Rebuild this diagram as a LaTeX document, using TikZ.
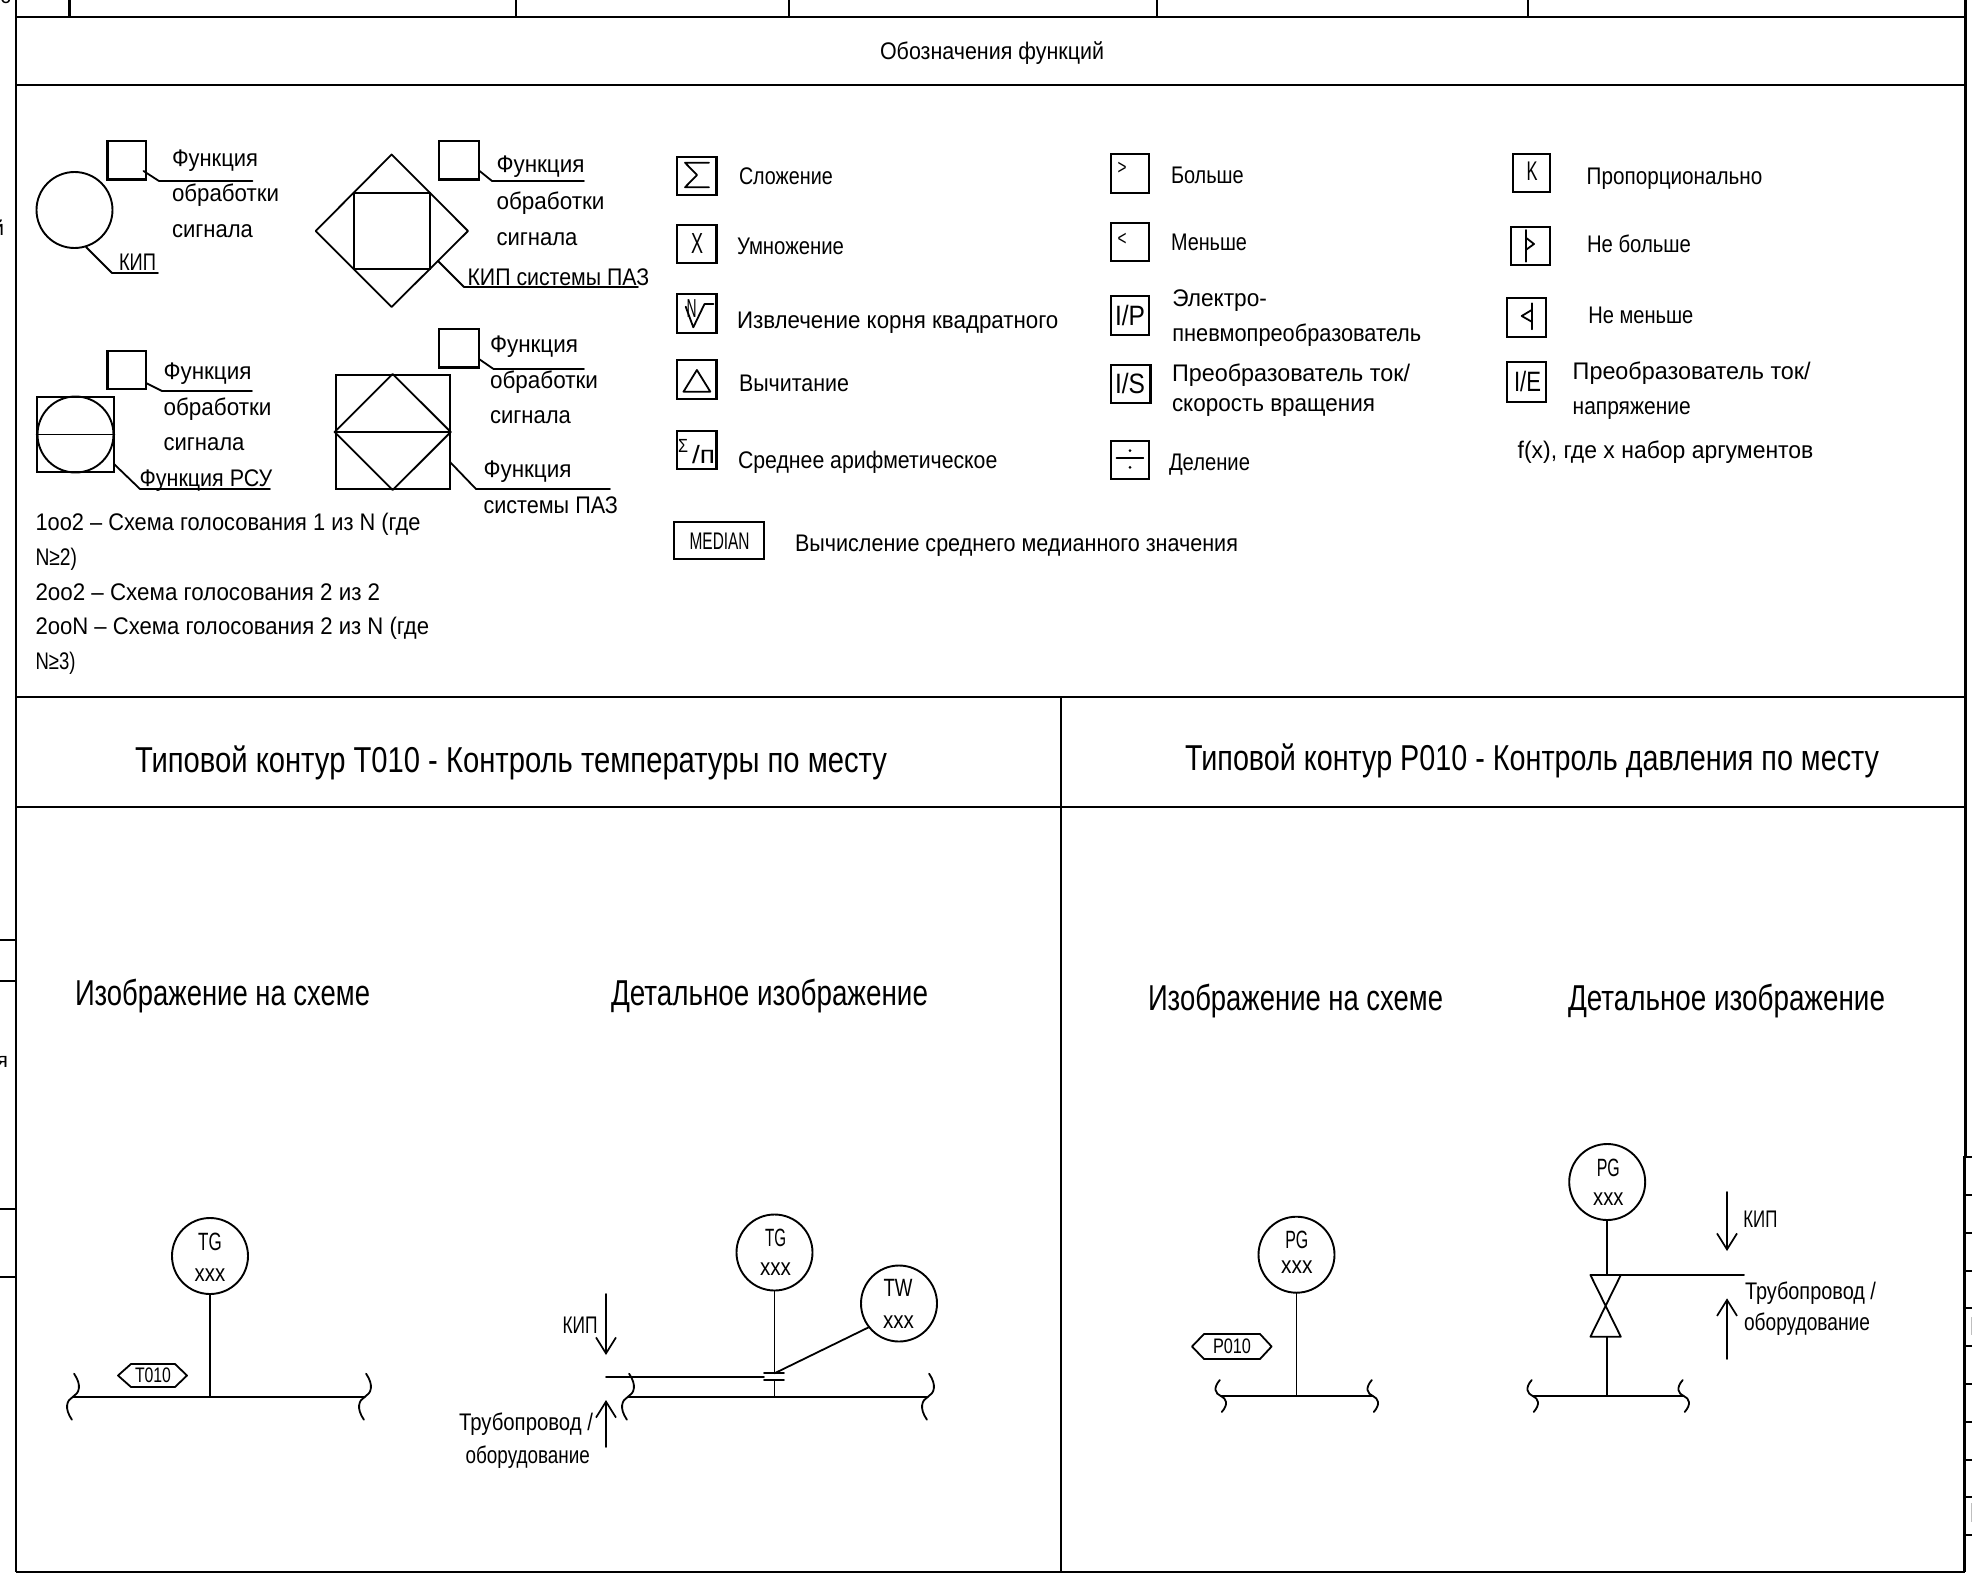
\documentclass[tikz,border=0pt]{standalone}
\usepackage{fontspec}
\usepackage{graphicx}
\setmainfont{Liberation Sans}
\usetikzlibrary{arrows.meta}
\newcounter{tn}
\tikzset{
  ln/.style={line width=1.8pt,line cap=round,line join=round},
  heavy/.style={line width=2.3pt},
  sqbox/.style={draw,line width=2.1pt,inner sep=0pt,rectangle},
  inst/.style={draw,circle,line width=1.9pt,inner sep=0pt,minimum size=76pt},
  lab/.style={inner sep=0pt,outer sep=0pt,anchor=base west},
  labc/.style={inner sep=0pt,outer sep=0pt,anchor=base},
  labe/.style={inner sep=0pt,outer sep=0pt,anchor=base east},
  arw/.style={ln,-{Straight Barb[length=16pt,width=20pt,line width=1.7pt]}}
}
% left-anchored text: x, baseline, size, width, text
\newcommand\tx[5]{\stepcounter{tn}\node[lab] (t\thetn) at (#1,#2) {\fontsize{#3}{#3}\selectfont\resizebox{#4pt}{\height}{#5}};}
% centred text
\newcommand\tc[5]{\stepcounter{tn}\node[labc] (t\thetn) at (#1,#2) {\fontsize{#3}{#3}\selectfont\resizebox{#4pt}{\height}{#5}};}
% box by corners
\newcommand\bx[5]{\pgfmathsetmacro\bw{#4-#2}\pgfmathsetmacro\bh{#5-#3}\pgfmathsetmacro\bcx{(#4+#2)/2}\pgfmathsetmacro\bcy{(#5+#3)/2}%
  \node[sqbox,minimum width=\bw pt,minimum height=\bh pt] (#1) at (\bcx,\bcy) {};}
% leader of three points
\newcommand\ldr[4]{\coordinate (#1a) at (#2);\coordinate (#1b) at (#3);\coordinate (#1c) at (#4);\draw[ln] (#1a) -- (#1b) -- (#1c);}
% pipe break: centre x, centre y, half height, bulge
\newcommand\brk[4]{\draw[ln] ({#1+#4*0.12},{#2-#3}) .. controls ({#1+#4},{#2-0.5*#3}) and ({#1+0.7*#4},{#2-0.15*#3}) .. (#1,#2) .. controls ({#1-0.7*#4},{#2+0.15*#3}) and ({#1-#4},{#2+0.5*#3}) .. ({#1-#4*0.12},{#2+#3});}
\begin{document}
\begin{tikzpicture}[x=1pt,y=-1pt]
\useasboundingbox (0,0) rectangle (1972,1573);
%% frame
\coordinate (fTL) at (16,0);\coordinate (fBL) at (16,1571.7);
\coordinate (fTR) at (1965.5,0);\coordinate (fBR) at (1965.5,1157);
\draw[heavy] (fTL) -- (fBL);
\draw[heavy] (fTR) -- (fBR);
\coordinate (fBR2) at (1964.5,1571.7);
\draw[heavy] (fBL) -- (fBR2);
\foreach \yy/\nm in {17/a,85/b,696.7/c}{
  \coordinate (hl\nm) at (16,\yy);\coordinate (hr\nm) at (1965.5,\yy);\draw[heavy] (hl\nm) -- (hr\nm);}
\coordinate (sl) at (16,806.7);\coordinate (sr) at (1965.5,806.7);\draw[heavy] (sl) -- (sr);
\coordinate (mt) at (1061,696.7);\coordinate (mb) at (1061,1571.7);\draw[heavy] (mt) -- (mb);
\foreach \xx in {69.5,516,789,1157,1528}{\draw[heavy] (\xx,0) -- (\xx,17);}
%% outer stubs
\foreach \yy in {940,981,1209,1277}{\draw[heavy] (0,\yy) -- (16,\yy);}
\stepcounter{tn}\node[labe] (t\thetn) at (8,1067) {\fontsize{21}{21}\selectfont я};
\stepcounter{tn}\node[labe] (t\thetn) at (4,235) {\fontsize{21}{21}\selectfont й};
\stepcounter{tn}\node[labe] (t\thetn) at (11,4) {\fontsize{21}{21}\selectfont с};
\foreach \yy in {1157,1195,1233,1271,1308,1346,1384,1422,1460,1497,1535}{\draw[heavy] (1964.5,\yy) -- (1972,\yy);}
\draw[line width=3.6pt] (1964.5,1155.5) -- (1964.5,1571.7);
\draw[line width=1pt,gray!50] (1971.3,1317) -- (1971.3,1335);
\draw[line width=1pt,gray!50] (1971.3,1503) -- (1971.3,1522);
%% header
\tc{992}{60}{24}{224}{Обозначения функций}
%% symbol 1
\bx{f1}{107.5}{141}{146}{179.5}
\node[inst] (c1) at (74.5,210) {};
\ldr{l1}{143.5,171}{159,181}{252.5,181}
\ldr{l2}{86,247}{112,273}{158,273}
\tx{172}{167}{24}{86}{Функция}
\tx{172}{202}{24}{107}{обработки}
\tx{172}{237}{24}{81}{сигнала}
\tx{119}{270}{24}{37}{КИП}
%% symbol 2
\coordinate (d1l) at (315.7,231);\coordinate (d1t) at (391.6,154.5);\coordinate (d1r) at (468,231);\coordinate (d1b) at (391.6,307);
\draw[ln] (d1l) -- (d1t) -- (d1r) -- (d1b) -- cycle;
\bx{s2}{354}{193}{430}{269}
\bx{f2}{439}{141}{479}{179.5}
\ldr{l3}{479,170.5}{492,181}{584,181}
\ldr{l4}{438,261}{464,287}{638,287}
\tx{496.5}{173}{24}{88}{Функция}
\tx{496.5}{210}{24}{108}{обработки}
\tx{496.5}{245}{24}{81}{сигнала}
\tx{467.5}{285}{24}{181.7}{КИП системы ПАЗ}
%% symbol 3
\bx{f3}{107.5}{351}{146}{389}
\bx{r3}{37}{397}{114}{472}
\node[inst] (c3) at (75.5,434.5) {};
\draw[ln] (c3.west) -- (c3.east);
\ldr{l5}{146,383}{162,391}{252,391}
\ldr{l6}{114,464}{140,489}{270,489}
\tx{163.5}{379.5}{24}{88}{Функция}
\tx{163.5}{415}{24}{108}{обработки}
\tx{163.5}{450}{24}{81}{сигнала}
\tx{139.6}{486}{24}{132.7}{Функция РСУ}
%% symbol 4
\bx{r4}{335.6}{375}{449.7}{489}
\draw[ln] (r4.west) -- (r4.east);
\draw[ln] (r4.west) -- (r4.north) -- (r4.east) -- (r4.south) -- cycle;
\bx{f4}{439}{329}{479}{367.5}
\ldr{l7}{479,359}{493.5,369}{584,369}
\ldr{l8}{450,462}{476,489}{610,489}
\tx{490}{352.7}{24}{88}{Функция}
\tx{490}{388}{24}{108}{обработки}
\tx{490}{423}{24}{81}{сигнала}
\tx{483.5}{477.7}{24}{88}{Функция}
\tx{483.5}{513}{24}{134.5}{системы ПАЗ}
%% voting
\tx{35.5}{530}{24}{385}{1oo2 – Схема голосования 1 из N (где}
\tx{35.5}{565}{24}{41.6}{N≥2)}
\tx{35.5}{600}{24}{344.7}{2oo2 – Схема голосования 2 из 2}
\tx{35.5}{634}{24}{393.7}{2ooN – Схема голосования 2 из N (где}
\tx{35.5}{669}{24}{40}{N≥3)}
%% function column 1
\bx{b1}{676.8}{156.7}{716.5}{195.3}
\coordinate (sg1) at (709,162.7);\coordinate (sg2) at (685,162.7);\coordinate (sg3) at (697,175);\coordinate (sg4) at (685,187.3);\coordinate (sg5) at (709,187.3);
\draw[ln] (sg1) -- (sg2) -- (sg3) -- (sg4) -- (sg5);
\tx{739}{185}{24}{93.75}{Сложение}
\bx{b2}{676.8}{224.7}{716.5}{263.3}
\tc{697}{254}{29}{12}{X}
\tx{737}{254.3}{24}{107}{Умножение}
\bx{b3}{676.8}{294}{716.5}{333}
\tc{691.5}{317}{26}{10}{N}
\coordinate (q1) at (685.7,306.7);\coordinate (q2) at (693.3,327.3);\coordinate (q3) at (704.5,304);\coordinate (q4) at (713.4,304);
\draw[ln] (q1) -- (q2) -- (q3) -- (q4);
\tx{737}{328}{24}{321.4}{Извлечение корня квадратного}
\bx{b4}{676.8}{360}{716.5}{399}
\coordinate (dl1) at (683.5,391.7);\coordinate (dl2) at (710.3,391.7);\coordinate (dl3) at (696.9,370);
\draw[ln] (dl1) -- (dl2) -- (dl3) -- cycle;
\tx{739}{391.7}{24}{110}{Вычитание}
\bx{b5}{676.8}{430.7}{716.5}{469.3}
\tx{678}{452}{19}{10}{Σ}
\tx{692}{463.5}{25}{23}{/п}
\tx{738}{468}{24}{259.4}{Среднее арифметическое}
\bx{b6}{673.7}{522}{764.3}{559}
\tc{719.6}{549}{24}{60}{MEDIAN}
\tx{795}{551.7}{24}{443}{Вычисление среднего медианного значения}
%% function column 2
\bx{c1b}{1111}{154}{1148.7}{193.3}
\tc{1122}{175}{21}{9}{>}
\tx{1171}{184}{24}{72.8}{Больше}
\bx{c2b}{1111}{222.7}{1148.7}{261.3}
\tc{1122}{245.5}{21}{9}{<}
\tx{1171}{250.7}{24}{76}{Меньше}
\bx{c3b}{1111}{296.3}{1148.7}{335.3}
\tc{1130}{325.5}{28}{30}{I/P}
\tx{1172.3}{306.7}{24}{94.6}{Электро-}
\tx{1172.3}{341.7}{24}{249}{пневмопреобразователь}
\bx{c4b}{1111}{364.7}{1150.5}{403.3}
\tc{1130}{393.5}{28}{30}{I/S}
\tx{1172}{381.7}{24}{238}{Преобразователь ток/}
\tx{1172}{411.7}{24}{203}{скорость вращения}
\bx{c5b}{1111}{440.7}{1148.7}{479.3}
\coordinate (dv1) at (1116.5,458.3);\coordinate (dv2) at (1143.3,458.3);\draw[ln] (dv1) -- (dv2);
\fill (1130,450.7) circle (1.5pt);\fill (1130,467.3) circle (1.5pt);
\tx{1169}{470.7}{24}{81}{Деление}
%% function column 3
\bx{k1}{1513}{154.3}{1550.3}{191.7}
\tc{1532}{181}{27}{11}{K}
\tx{1586.7}{185}{24}{175.7}{Пропорционально}
\bx{k2}{1511}{226.7}{1550.3}{265}
\coordinate (nb1) at (1525.7,230);\coordinate (nb2) at (1525.7,261.7);\draw[ln] (nb1) -- (nb2);
\coordinate (nb3) at (1526.7,238.3);\coordinate (nb4) at (1534,244);\coordinate (nb5) at (1526.7,249.3);\draw[ln] (nb3) -- (nb4) -- (nb5);
\tx{1587}{252.7}{24}{104}{Не больше}
\bx{k3}{1507.3}{298.3}{1546}{337.3}
\coordinate (nm1) at (1531.7,303.3);\coordinate (nm2) at (1531.7,329.3);\draw[ln] (nm1) -- (nm2);
\coordinate (nm3) at (1531.7,310);\coordinate (nm4) at (1521.7,316);\coordinate (nm5) at (1531.7,321.7);\draw[ln] (nm3) -- (nm4) -- (nm5);
\tx{1588.3}{323}{24}{105}{Не меньше}
\bx{k4}{1507.3}{362.3}{1546}{401.7}
\tc{1527.5}{391.7}{28}{27}{I/E}
\tx{1572.7}{379.3}{24}{238}{Преобразователь ток/}
\tx{1572.7}{414}{24}{118}{напряжение}
\tx{1517.7}{458}{24}{295.7}{f(x), где х набор аргументов}
%% section titles
\tx{135}{772.5}{36}{752}{Типовой контур Т010 - Контроль температуры по месту}
\tx{1185}{770}{36}{694}{Типовой контур Р010 - Контроль давления по месту}
\tx{75}{1005}{36}{295}{Изображение на схеме}
\tx{611}{1005}{36}{317}{Детальное изображение}
\tx{1148}{1010}{36}{295}{Изображение на схеме}
\tx{1568}{1010}{36}{317}{Детальное изображение}
%% T010 scheme
\node[inst] (tg1) at (210,1256) {};
\coordinate (p1l) at (73,1396.7);\coordinate (p1r) at (365,1396.7);\coordinate (p1j) at (210,1396.7);
\draw[ln] (p1l) -- (p1r);
\draw[ln] (tg1.south) -- (p1j);
\brk{73}{1396.7}{23}{9}
\brk{365}{1396.7}{23}{9}
\tc{210}{1250.7}{25}{23.6}{TG}
\tc{210}{1281}{24}{30.6}{xxx}
\coordinate (h1a) at (118,1375.5);\coordinate (h1b) at (131,1364);\coordinate (h1c) at (175,1364);\coordinate (h1d) at (187,1375.5);\coordinate (h1e) at (175,1387);\coordinate (h1f) at (131,1387);
\draw[ln] (h1a) -- (h1b) -- (h1c) -- (h1d) -- (h1e) -- (h1f) -- cycle;
\tc{153}{1382}{21}{36}{T010}
%% T010 detail
\node[inst] (tg2) at (774.5,1252.5) {};
\node[inst] (tw2) at (899,1303.5) {};
\coordinate (p2l) at (628,1396.7);\coordinate (p2r) at (928,1396.7);\coordinate (p2j) at (774.5,1396.7);
\draw[ln] (p2l) -- (p2r);
\brk{628}{1396.7}{23}{9}
\brk{928}{1396.7}{23}{9}
\coordinate (cap1) at (774.5,1373.3);\coordinate (cap2) at (774.5,1380);
\coordinate (cap1l) at (764,1373.3);\coordinate (cap1r) at (784,1373.3);
\coordinate (cap2l) at (764,1380);\coordinate (cap2r) at (784,1380);
\draw[ln] (cap1l) -- (cap1r);\draw[ln] (cap2l) -- (cap2r);
\draw[ln] (tg2.south) -- (cap1);
\draw[ln] (cap2) -- (p2j);
\draw[ln] (tw2.-142) -- (cap1);
\coordinate (kipl) at (606,1376.7);\coordinate (kipr) at (764,1376.7);\draw[ln] (kipl) -- (kipr);
\coordinate (a1s) at (606,1294);\coordinate (a1e) at (606,1355);\draw[arw] (a1s) -- (a1e);
\coordinate (a2s) at (606,1447);\coordinate (a2e) at (606,1400);\draw[arw] (a2s) -- (a2e);
\tc{775.5}{1246.7}{25}{21}{TG}
\tc{775.5}{1275}{24}{31}{xxx}
\tc{898}{1296}{25}{29}{TW}
\tc{898.5}{1328}{24}{31}{xxx}
\tx{562.5}{1333}{24}{35}{КИП}
\tx{459}{1430.7}{24}{134}{Трубопровод /}
\tx{465.6}{1463}{24}{124.4}{оборудование}
%% P010 scheme
\node[inst] (pg1) at (1296.5,1254.7) {};
\coordinate (p3l) at (1220.8,1396);\coordinate (p3r) at (1372.8,1396);\coordinate (p3j) at (1296.5,1396);
\draw[ln] (p3l) -- (p3r);
\draw[ln] (pg1.south) -- (p3j);
\brk{1220.8}{1396}{16}{-8}
\brk{1372.8}{1396}{16}{-8}
\coordinate (h2a) at (1192,1346.5);\coordinate (h2b) at (1204,1334);\coordinate (h2c) at (1260,1334);\coordinate (h2d) at (1271.6,1346.5);\coordinate (h2e) at (1260,1359);\coordinate (h2f) at (1204,1359);
\draw[ln] (h2a) -- (h2b) -- (h2c) -- (h2d) -- (h2e) -- (h2f) -- cycle;
\tc{1232}{1353.5}{21}{38}{P010}
\tc{1296.8}{1248.3}{25}{23}{PG}
\tc{1296.8}{1273}{24}{31.5}{xxx}
%% P010 detail
\node[inst] (pg2) at (1607.2,1182) {};
\coordinate (p4l) at (1532.7,1396);\coordinate (p4r) at (1683.7,1396);\coordinate (p4j) at (1607.2,1396);
\draw[ln] (p4l) -- (p4r);
\brk{1532.7}{1396}{16}{-8}
\brk{1683.7}{1396}{16}{-8}
\coordinate (v1) at (1590.4,1275);\coordinate (v2) at (1620.8,1275);\coordinate (v3) at (1590.4,1336.7);\coordinate (v4) at (1620.8,1336.7);
\coordinate (vt) at (1607.2,1275);\coordinate (vb) at (1607.2,1336.7);
\draw[ln] (v1) -- (v2) -- (v3) -- (v4) -- cycle;
\draw[ln] (pg2.south) -- (vt);
\draw[ln] (vb) -- (p4j);
\coordinate (v5) at (1744,1275);\draw[ln] (v2) -- (v5);
\coordinate (a3s) at (1727,1192);\coordinate (a3e) at (1727,1251);\draw[arw] (a3s) -- (a3e);
\coordinate (a4s) at (1727,1359);\coordinate (a4e) at (1727,1298.3);\draw[arw] (a4s) -- (a4e);
\tc{1608.3}{1176.7}{25}{23}{PG}
\tc{1608.3}{1205.7}{24}{30.4}{xxx}
\tx{1743.4}{1227.7}{24}{34}{КИП}
\tx{1745}{1299}{24}{131}{Трубопровод /}
\tx{1744}{1330.7}{24}{126}{оборудование}
\end{tikzpicture}
\end{document}
